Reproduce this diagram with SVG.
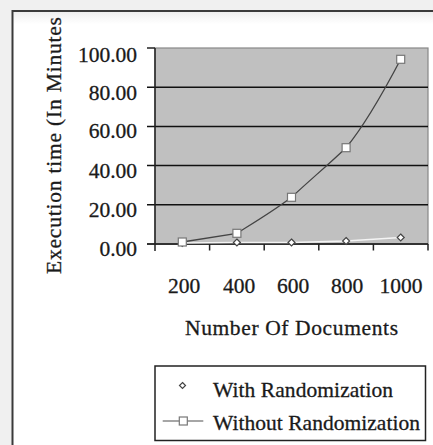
<svg xmlns="http://www.w3.org/2000/svg" width="433" height="445" viewBox="0 0 433 445">
<defs>
<linearGradient id="topfade" x1="0" y1="0" x2="0" y2="1">
<stop offset="0" stop-color="#eeeeee"/>
<stop offset="1" stop-color="#ffffff"/>
</linearGradient>
<style>
text{font-family:"Liberation Serif","Times New Roman",serif;font-size:21.5px;fill:#1a1a1a;stroke:#1a1a1a;stroke-width:0.3}
.grid{stroke:#111;stroke-width:1.5}
.tick{stroke:#222;stroke-width:1.5}
.sq{fill:#fff;stroke:#777;stroke-width:1.2}
.dm{fill:#fff;stroke:#444;stroke-width:1.2}
</style>
</defs>
<rect x="0" y="0" width="433" height="445" fill="#f0f0f0"/>
<rect x="12.5" y="11" width="430" height="440" fill="#fff"/>
<rect x="13.5" y="12" width="430" height="12" fill="url(#topfade)"/>
<path d="M12.5 445 V11 H433" fill="none" stroke="#3a3a3a" stroke-width="2"/>

<g id="plot">
<rect x="155" y="48" width="273" height="196" fill="#c0c0c0" stroke="#888" stroke-width="1.2"/>
<line class="grid" x1="147" y1="87.2" x2="428" y2="87.2"/>
<line class="grid" x1="147" y1="126.4" x2="428" y2="126.4"/>
<line class="grid" x1="147" y1="165.6" x2="428" y2="165.6"/>
<line class="grid" x1="147" y1="204.8" x2="428" y2="204.8"/>
<line class="tick" x1="147" y1="48" x2="155" y2="48"/>
<line x1="147" y1="244" x2="428" y2="244" stroke="#333" stroke-width="2"/>
<line x1="155" y1="48" x2="155" y2="251" stroke="#222" stroke-width="1.5"/>
<line class="tick" x1="209.6" y1="244" x2="209.6" y2="250.5"/>
<line class="tick" x1="264.2" y1="244" x2="264.2" y2="250.5"/>
<line class="tick" x1="318.8" y1="244" x2="318.8" y2="250.5"/>
<line class="tick" x1="373.4" y1="244" x2="373.4" y2="250.5"/>
<line class="tick" x1="428" y1="244" x2="428" y2="250.5"/>
</g>

<g id="y-labels" text-anchor="end">
<text x="137" y="61.5">100.00</text>
<text x="137" y="99.5">80.00</text>
<text x="137" y="138">60.00</text>
<text x="137" y="177.5">40.00</text>
<text x="137" y="217">20.00</text>
<text x="137" y="256">0.00</text>
</g>

<g id="x-labels" text-anchor="middle">
<text x="184" y="293">200</text>
<text x="239" y="293">400</text>
<text x="293" y="293">600</text>
<text x="347" y="293">800</text>
<text x="401" y="293">1000</text>
</g>

<text id="x-title" x="185" y="335" textLength="213" lengthAdjust="spacing">Number Of Documents</text>
<text id="y-title" transform="translate(61 274) rotate(-90)" x="0" y="0" textLength="257" lengthAdjust="spacing">Execution time (In Minutes</text>

<g id="series-with">
<polyline points="182.3,243 236.9,242.5 291.5,242.5 346.1,241 400.7,237.5" fill="none" stroke="#f4f4f4" stroke-width="1.5"/>
<path class="dm" d="M182.3 239.5 L185.8 243 L182.3 246.5 L178.8 243 Z"/>
<path class="dm" d="M236.9 239 L240.4 242.5 L236.9 246 L233.4 242.5 Z"/>
<path class="dm" d="M291.5 239 L295 242.5 L291.5 246 L288 242.5 Z"/>
<path class="dm" d="M346.1 237.5 L349.6 241 L346.1 244.5 L342.6 241 Z"/>
<path class="dm" d="M400.7 234 L404.2 237.5 L400.7 241 L397.2 237.5 Z"/>
</g>

<g id="series-without">
<path d="M182.3 242 L236.9 233.3 C255 222 272 212 291.5 197.3 C310 180 328 165 346.1 147.7 C365 125 383 93 400.7 59.3" fill="none" stroke="#444" stroke-width="1.3"/>
<rect class="sq" x="178.3" y="238" width="8" height="8"/>
<rect class="sq" x="232.9" y="229.3" width="8" height="8"/>
<rect class="sq" x="287.5" y="193.3" width="8" height="8"/>
<rect class="sq" x="342.1" y="143.7" width="8" height="8"/>
<rect class="sq" x="396.7" y="55.3" width="8" height="8"/>
</g>

<g id="legend">
<rect x="155" y="366" width="270.5" height="74.5" fill="#fff" stroke="#222" stroke-width="1.5"/>
<path class="dm" d="M182.5 382.5 L185.5 385.5 L182.5 388.5 L179.5 385.5 Z"/>
<text x="213" y="397" textLength="180" lengthAdjust="spacing">With Randomization</text>
<line x1="162.7" y1="421" x2="203.3" y2="421" stroke="#888" stroke-width="1.5"/>
<rect class="sq" x="179.3" y="417" width="8" height="8" stroke="#999"/>
<text x="213" y="430" textLength="207" lengthAdjust="spacing">Without Randomization</text>
</g>
</svg>
